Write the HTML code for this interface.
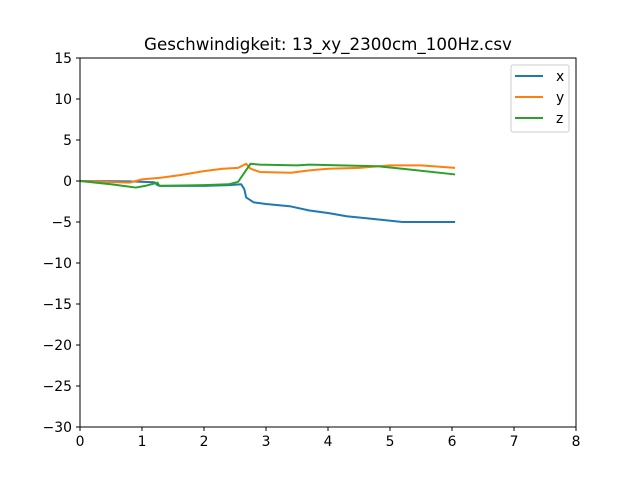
<!DOCTYPE html>
<html><head><meta charset="utf-8"><style>
body{margin:0;background:#fff;}
svg{display:block;font-family:"DejaVu Sans","Liberation Sans",sans-serif;}
</style></head><body>
<svg id="chart" width="640" height="480">
<rect width="640" height="480" fill="#fff"/>
<text x="328" y="50" font-size="16.7" text-anchor="middle">Geschwindigkeit: 13_xy_2300cm_100Hz.csv</text>
<g id="axes"></g>
<g id="lines"></g>
<rect x="80" y="58" width="496" height="369" fill="none" stroke="#000" stroke-width="1"/>
<g>
<rect x="511" y="65" width="58" height="67" rx="2" fill="#fff" stroke="#ccc"/>
<line x1="515" y1="76" x2="543" y2="76" stroke="#1f77b4" stroke-width="2"/>
<text x="556" y="81" font-size="13.9">x</text>
<line x1="515" y1="97" x2="543" y2="97" stroke="#ff7f0e" stroke-width="2"/>
<text x="556" y="102" font-size="13.9">y</text>
<line x1="515" y1="118" x2="543" y2="118" stroke="#2ca02c" stroke-width="2"/>
<text x="556" y="123" font-size="13.9">z</text>
</g>
</svg>
<script>
const xTicks=[0,1,2,3,4,5,6,7,8];
const yTicks=[-30,-25,-20,-15,-10,-5,0,5,10,15];
const seriesNames=["x","y","z"];
const xT=[0,0.8,1.2,1.25,1.3,2.0,2.4,2.6,2.65,2.68,2.8,3.0,3.4,3.7,4.0,4.3,4.7,5.2,6.05];
const xV=[0,-0.05,-0.15,-0.5,-0.6,-0.6,-0.5,-0.4,-1.0,-2.0,-2.6,-2.8,-3.1,-3.6,-3.9,-4.3,-4.6,-5.0,-5.0];
const yT=[0,0.8,1.0,1.3,1.6,2.0,2.3,2.55,2.68,2.75,2.9,3.4,3.7,4.0,4.5,5.0,5.5,6.05];
const yV=[0,-0.2,0.2,0.4,0.7,1.2,1.5,1.6,2.1,1.5,1.1,1.0,1.3,1.5,1.6,1.9,1.9,1.6];
const zT=[0,0.5,0.9,1.05,1.25,1.28,2.0,2.4,2.55,2.65,2.75,2.9,3.5,3.7,4.2,4.8,5.2,6.05];
const zV=[0,-0.4,-0.8,-0.6,-0.2,-0.6,-0.5,-0.4,-0.1,1.0,2.1,2.0,1.9,2.0,1.9,1.8,1.5,0.8];
const L=80,R=576,T=58,B=427,xmin=0,xmax=8,ymin=-30,ymax=15;
const sx=v=>L+(v-xmin)/(xmax-xmin)*(R-L);
const sy=v=>B-(v-ymin)/(ymax-ymin)*(B-T);
const NS="http://www.w3.org/2000/svg";
const axes=document.getElementById('axes'),lines=document.getElementById('lines');
xTicks.forEach(t=>{
 const l=document.createElementNS(NS,'line');
 l.setAttribute('x1',sx(t));l.setAttribute('x2',sx(t));l.setAttribute('y1',B);l.setAttribute('y2',B+4);l.setAttribute('stroke','#000');
 
 
 axes.appendChild(l);
 const tx=document.createElementNS(NS,'text');
 tx.setAttribute('x',sx(t));tx.setAttribute('y',B+19);tx.setAttribute('font-size','13.9');tx.setAttribute('text-anchor','middle');tx.textContent=t;
 
 
 axes.appendChild(tx);
});
yTicks.forEach(t=>{
 const l=document.createElementNS(NS,'line');
 l.setAttribute('x1',L-4);l.setAttribute('x2',L);l.setAttribute('y1',sy(t));l.setAttribute('y2',sy(t));l.setAttribute('stroke','#000');
 
 
 axes.appendChild(l);
 const tx=document.createElementNS(NS,'text');
 tx.setAttribute('x',L-8);tx.setAttribute('y',sy(t)+5);tx.setAttribute('font-size','13.9');tx.setAttribute('text-anchor','end');tx.textContent=t<0?'\u2212'+(-t):t;
 
 
 axes.appendChild(tx);
});
[[xT,xV,'#1f77b4','series-x'],[yT,yV,'#ff7f0e','series-y'],[zT,zV,'#2ca02c','series-z']].forEach(s=>{
 const p=document.createElementNS(NS,'polyline');
 p.setAttribute('points',s[0].map((t,i)=>sx(t)+','+sy(s[1][i])).join(' '));
 p.setAttribute('fill','none');p.setAttribute('stroke',s[2]);p.setAttribute('stroke-width','2');p.setAttribute('stroke-linejoin','round');
 
 
 lines.appendChild(p);
});
</script>
</body></html>
